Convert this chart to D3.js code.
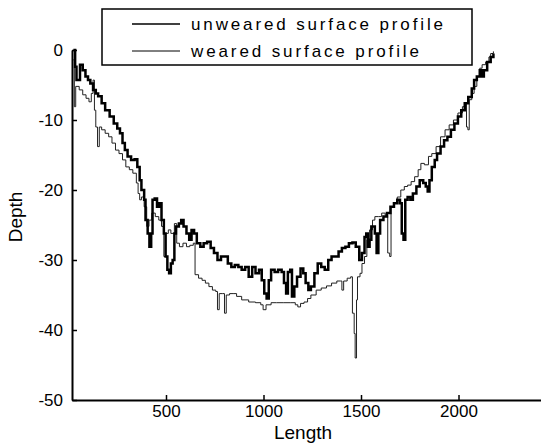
<!DOCTYPE html>
<html>
<head>
<meta charset="utf-8">
<script src="https://cdn.jsdelivr.net/npm/d3@7"></script>
<style>
  body { margin: 0; background: #fff; }
  text { font-family: "Liberation Sans", Arial, sans-serif; }
</style>
</head>
<body>
<svg id="chart"></svg>
<script>
// Data (length, depth)
const unwearedLength = [
  25, 34, 41, 59, 73, 87, 100, 112, 126, 140,
  152, 170, 188, 211, 232, 250, 264, 277, 289, 303,
  321, 339, 353, 365, 374, 388, 395, 406, 415, 424,
  431, 442, 454, 466, 477, 489, 498, 507, 516, 525,
  534, 543, 551, 566, 578, 590, 605, 619, 631, 644,
  658, 676, 693, 711, 729, 746, 764, 782, 800, 817,
  835, 853, 871, 888, 906, 924, 942, 959, 977, 991,
  1004, 1016, 1027, 1039, 1057, 1075, 1093, 1105, 1116, 1125,
  1137, 1146, 1158, 1172, 1190, 1204, 1216, 1230, 1243, 1261,
  1278, 1296, 1314, 1332, 1349, 1367, 1385, 1402, 1420, 1438,
  1456, 1473, 1491, 1505, 1518, 1527, 1535, 1544, 1553, 1571,
  1580, 1589, 1598, 1615, 1633, 1651, 1669, 1686, 1700, 1709,
  1718, 1727, 1739, 1753, 1766, 1784, 1801, 1819, 1832, 1842,
  1851, 1863, 1878, 1890, 1908, 1926, 1943, 1961, 1979, 1997,
  2014, 2032, 2050, 2068, 2080, 2094, 2109, 2121, 2130, 2147,
  2165, 2179
];
const unwearedDepth = [
  0, -2.4, -4.3, -2.1, -2.9, -3.8, -4.3, -4.8, -5.7, -6.2,
  -6.6, -7.6, -8.6, -9.5, -10.5, -11.2, -11.9, -13.3, -14.3, -15.2,
  -15.7, -15.6, -16.7, -18.6, -20, -21.4, -24.3, -26.2, -28.1, -26.2,
  -21.4, -21.2, -22.4, -21.9, -24.3, -26.2, -29.5, -31.4, -31.9, -30.5,
  -30, -26.2, -25.2, -24.8, -24.3, -25.2, -26.2, -27.1, -25.7, -26.2,
  -27.6, -28.1, -27.6, -27.4, -28.3, -29, -30, -29.5, -29.5, -30.5,
  -31, -30.7, -31, -31.4, -31, -32.4, -31, -31.9, -31.4, -32.9,
  -34.8, -35.5, -32.9, -31.4, -31.7, -31.4, -31.7, -33.3, -34.8, -31.7,
  -31.4, -35.2, -33.8, -32.4, -31.2, -31.9, -33.3, -34.3, -33.8, -31.9,
  -30.5, -31, -31.4, -30, -29.5, -29.5, -28.8, -28.3, -28.1, -27.6,
  -27.5, -28.1, -30, -29, -26.7, -26.2, -28.1, -27.1, -25.2, -26.2,
  -29, -26.2, -24.3, -23.8, -23.3, -22.4, -21.9, -21.4, -21.9, -26.2,
  -27.1, -21.4, -21, -21.4, -20.5, -19.5, -18.6, -19, -19.5, -20.2,
  -18.6, -16.7, -15.7, -14.8, -13.8, -12.9, -12.4, -11.4, -10.5, -9.5,
  -8.6, -7.6, -6.7, -5.5, -4.3, -3.8, -2.9, -3.8, -2.9, -1.7,
  -1, -0.5
];
const wearedLength = [
  25, 30, 37, 55, 73, 90, 105, 117, 126, 133,
  140, 149, 158, 170, 188, 206, 223, 241, 259, 277,
  294, 312, 330, 348, 357, 365, 374, 388, 401, 413,
  427, 445, 463, 477, 489, 498, 512, 525, 543, 555,
  569, 587, 605, 622, 640, 649, 667, 685, 702, 720,
  738, 755, 764, 773, 791, 800, 809, 826, 844, 862,
  888, 924, 959, 986, 998, 1013, 1039, 1066, 1101, 1137,
  1163, 1176, 1190, 1208, 1226, 1243, 1270, 1296, 1323, 1349,
  1376, 1394, 1402, 1411, 1429, 1447, 1456, 1465, 1470, 1477,
  1482, 1495, 1505, 1518, 1530, 1544, 1559, 1571, 1589, 1606,
  1624, 1637, 1647, 1654, 1669, 1686, 1704, 1722, 1739, 1757,
  1775, 1793, 1807, 1825, 1846, 1863, 1885, 1908, 1931, 1952,
  1974, 1997, 2020, 2032, 2041, 2048, 2055, 2068, 2080, 2094,
  2109, 2121, 2139, 2156, 2165, 2179
];
const wearedDepth = [
  -1.4, -8.1, -5.2, -5.7, -6.4, -6.9, -7.4, -6.2, -4.3, -8.6,
  -11, -13.8, -11, -11.4, -11.9, -12.4, -13.3, -14.3, -14.8, -15.7,
  -16.7, -17.1, -17.6, -19, -20.5, -21.4, -21, -22.4, -25.2, -24.3,
  -23.3, -23.8, -24.3, -25.2, -29.5, -26.2, -25.7, -26.2, -24.8, -27.6,
  -28.1, -27.6, -28.1, -27.9, -27.6, -32.1, -32.6, -32.9, -33.3, -33.8,
  -34.3, -34.5, -37.1, -34.8, -34.8, -37.6, -35, -34.8, -34.8, -35.2,
  -35.7, -36, -36.1, -36.4, -37.1, -36.4, -36.1, -36.1, -36.1, -36.1,
  -36.4, -36.7, -36.2, -36, -35.5, -35, -34.3, -34, -33.7, -33.3,
  -33, -33, -34.3, -33, -32.6, -32.4, -37.6, -40.5, -44, -35.7,
  -32.4, -31.9, -30.5, -29.5, -27.1, -25.7, -24.3, -23.8, -23.8, -23.3,
  -23.6, -29, -29.5, -22.4, -21.9, -21, -20, -19.5, -19.3, -18.8,
  -18.1, -17.1, -16.2, -16.4, -15.2, -14.8, -13.8, -12.4, -11.4, -10.7,
  -10, -9, -8.1, -7.6, -11, -11.4, -7.1, -6.2, -5.2, -3.8,
  -2.6, -2.1, -1.7, -1, -0.5, -0.2
];
const xTicks = [500, 1000, 1500, 2000];
const yTicks = [0, -10, -20, -30, -40, -50];
const seriesNames = ["unweared surface profile", "weared surface profile"];

const width = 541, height = 445;
const marginLeft = 72, marginBottom = 45, marginTop = 50;

const svg = d3.select("#chart")
  .attr("width", width)
  .attr("height", height)
  .attr("viewBox", [0, 0, width, height]);

const x = d3.scaleLinear([18, 2423], [marginLeft, width]);
const y = d3.scaleLinear([-50, 0], [height - marginBottom, marginTop]);

const line = d3.line()
  .x(d => x(d[0]))
  .y(d => y(d[1]))
  .curve(d3.curveStepAfter);

// weared (thin) first, unweared (thick) on top
svg.append("path")
  .datum(d3.zip(wearedLength, wearedDepth))
  .attr("fill", "none")
  .attr("stroke", "#222")
  .attr("stroke-width", 1)
  .attr("d", line);

svg.append("path")
  .datum(d3.zip(unwearedLength, unwearedDepth))
  .attr("fill", "none")
  .attr("stroke", "#000")
  .attr("stroke-width", 2.5)
  .attr("d", line);

// axes (plain hyphen minus, no thousands separator)
const plain = d => String(d);

svg.append("g")
  .attr("transform", `translate(${marginLeft},0)`)
  .call(d3.axisLeft(y).tickValues(yTicks).tickFormat(plain)
    .tickSizeInner(-5).tickSizeOuter(0).tickPadding(9))
  .call(g => g.select(".domain").attr("stroke-width", 2))
  .call(g => g.selectAll(".tick line").attr("stroke-width", 1.5))
  .call(g => g.selectAll(".tick text")
    .attr("font-size", 17)
    .attr("font-family", "Liberation Sans, Arial, sans-serif")
    .attr("fill", "#000"));

svg.append("g")
  .attr("transform", `translate(0,${height - marginBottom})`)
  .call(d3.axisBottom(x).tickValues(xTicks).tickFormat(plain)
    .tickSizeInner(-5).tickSizeOuter(0).tickPadding(5))
  .call(g => g.select(".domain").attr("stroke-width", 2))
  .call(g => g.selectAll(".tick line").attr("stroke-width", 1.5))
  .call(g => g.selectAll(".tick text")
    .attr("font-size", 17)
    .attr("font-family", "Liberation Sans, Arial, sans-serif")
    .attr("fill", "#000"));

// axis labels
svg.append("text")
  .attr("x", 303)
  .attr("y", 439)
  .attr("text-anchor", "middle")
  .attr("font-size", 19)
  .text("Length");

svg.append("text")
  .attr("transform", "translate(22,217) rotate(-90)")
  .attr("text-anchor", "middle")
  .attr("font-size", 19)
  .text("Depth");

// legend
const legend = svg.append("g");
legend.append("rect")
  .attr("x", 102).attr("y", 9)
  .attr("width", 370).attr("height", 56)
  .attr("fill", "#fff")
  .attr("stroke", "#000")
  .attr("stroke-width", 1.5);

const legendY = [24, 51];
const legendW = [1.6, 1];
const legendLen = [252, 228];
seriesNames.forEach((name, i) => {
  legend.append("line")
    .attr("x1", 132).attr("x2", 180)
    .attr("y1", legendY[i]).attr("y2", legendY[i])
    .attr("stroke", "#000")
    .attr("stroke-width", legendW[i]);
  legend.append("text")
    .attr("x", 191)
    .attr("y", legendY[i] + 6)
    .attr("font-size", 17)
    .attr("textLength", legendLen[i])
    .attr("lengthAdjust", "spacing")
    .text(name);
});
</script>
</body>
</html>
